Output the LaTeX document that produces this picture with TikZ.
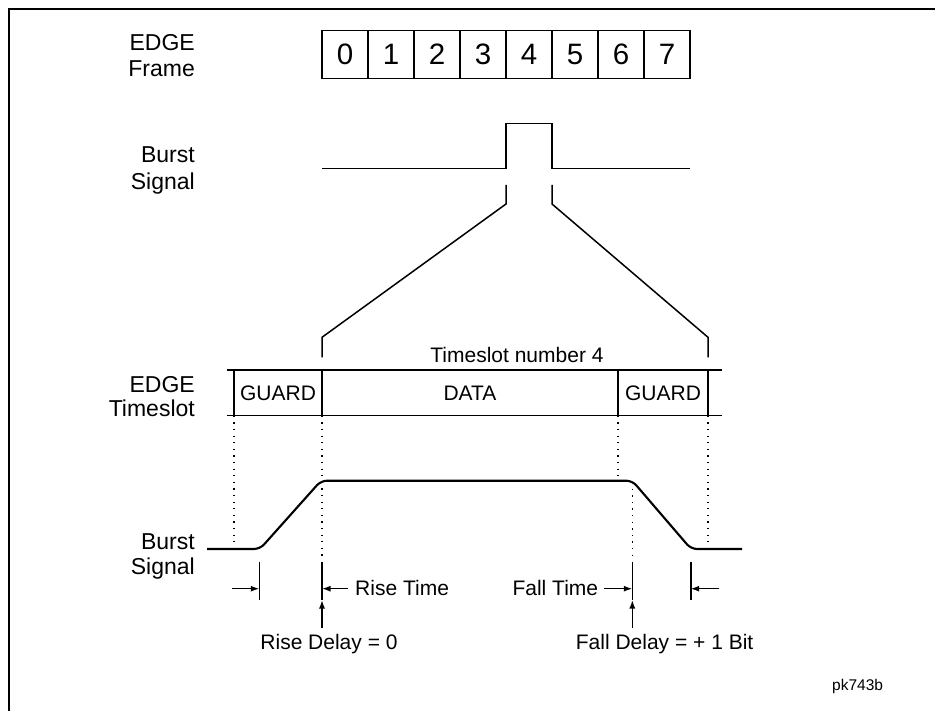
\documentclass[tikz,border=0pt]{standalone}
\usepackage{fontspec}
\setmainfont{Liberation Sans}
\usetikzlibrary{arrows.meta}
\begin{document}
\begin{tikzpicture}[x=1pt,y=-1pt,
  lbl/.style={font=\fontsize{23}{26}\selectfont, inner sep=0pt},
  smalltxt/.style={font=\fontsize{21}{24}\selectfont, inner sep=0pt},
  fbox/.style={draw, line width=1.3pt, minimum width=46pt, minimum height=47.6pt, inner sep=0pt, outer sep=0pt, font=\fontsize{29.5}{32}\selectfont},
  sigline/.style={line width=1.5pt},
  tsline/.style={line width=1.4pt},
  tsvert/.style={line width=2pt},
  bigsig/.style={line width=2.1pt, rounded corners=6pt},
  mark line/.style={line width=1.6pt},
  arr/.style={-{Latex[length=8.5pt,width=6pt]}, line width=1.4pt},
  dotline/.style={line width=1.2pt, dash pattern=on 1.3pt off 5.3pt},
]
\useasboundingbox (0,0) rectangle (935,711);
% frame
\coordinate (fbl) at (9,712);
\coordinate (ftl) at (9,9);
\coordinate (ftr) at (936,9);
\draw[line width=1.5pt] (fbl) -- (ftl) -- (ftr);

% labels
\node[lbl, anchor=base east] (l1a) at (195,50.7) {EDGE};
\node[lbl, anchor=base east] (l1b) at (195,76.7) {Frame};
\node[lbl, anchor=base east] (l2a) at (195,162.7) {Burst};
\node[lbl, anchor=base east] (l2b) at (195,189.5) {Signal};
\node[lbl, anchor=base east] (l3a) at (195,393) {EDGE};
\node[lbl, anchor=base east] (l3b) at (195,417) {Timeslot};
\node[lbl, anchor=base east] (l4a) at (195,549.5) {Burst};
\node[lbl, anchor=base east] (l4b) at (195,574.5) {Signal};

% frame boxes
\foreach \i in {0,...,7} {
  \node[fbox] (f\i) at ({345+46*\i},54.5) {\i};
}

% upper burst signal
\coordinate (b1) at (322,168.3);
\coordinate (b2) at (506,168.3);
\coordinate (b3) at (506,123.3);
\coordinate (b4) at (552,123.3);
\coordinate (b5) at (552,168.3);
\coordinate (b6) at (690,168.3);
\draw[sigline] (b1) -- (b2) -- (b3) -- (b4) -- (b5) -- (b6);

% zoom lines
\coordinate (z1) at (506,185);
\coordinate (z2) at (506,204);
\coordinate (z3) at (322,337.3);
\coordinate (z4) at (322,357.5);
\coordinate (z5) at (552,185);
\coordinate (z6) at (552,204);
\coordinate (z7) at (708,337.3);
\coordinate (z8) at (708,357.5);
\draw[sigline] (z1) -- (z2) -- (z3) -- (z4);
\draw[sigline] (z5) -- (z6) -- (z7) -- (z8);

% timeslot
\node[smalltxt, anchor=base] (tsn) at (517,363) {Timeslot number 4};
\coordinate (t1) at (226.7,370);
\coordinate (t2) at (722.3,370);
\coordinate (t3) at (226.7,415.7);
\coordinate (t4) at (722.3,415.7);
\draw[tsline] (t1) -- (t2);
\draw[tsline] (t3) -- (t4);
\foreach \x/\n in {234/va,322/vb,618/vc,708/vd} {
  \coordinate (\n top) at (\x,370);
  \coordinate (\n bot) at (\x,415.7);
  \draw[tsvert] (\n top) -- (\n bot);
}
\node[smalltxt] (g1) at (278,392.8) {GUARD};
\node[smalltxt] (data) at (470,392.8) {DATA};
\node[smalltxt] (g2) at (663,392.8) {GUARD};

% dotted guides
\coordinate (d1e) at (234,548);
\coordinate (d2e) at (322,557);
\coordinate (d3e) at (618,480);
\coordinate (d4s) at (632.3,482);
\coordinate (d4e) at (632.3,557);
\coordinate (d5e) at (708,548);
\draw[dotline] (vabot) -- (d1e);
\draw[dotline] (vbbot) -- (d2e);
\draw[dotline] (vcbot) -- (d3e);
\draw[dotline] (d4s) -- (d4e);
\draw[dotline] (vdbot) -- (d5e);

% lower burst signal
\coordinate (s1) at (207,549);
\coordinate (s2) at (260,549);
\coordinate (s3) at (321,480.7);
\coordinate (s4) at (632.3,480.7);
\coordinate (s5) at (691,549);
\coordinate (s6) at (742,549);
\draw[bigsig] (s1) -- (s2) -- (s3) -- (s4) -- (s5) -- (s6);

% markers
\foreach \x/\n in {259.3/ma,322/mb,632.3/mc,690.7/md} {
  \coordinate (\n top) at (\x,561.7);
  \coordinate (\n bot) at (\x,600);
  \draw[mark line] (\n top) -- (\n bot);
}
\coordinate (a1) at (231.7,588.7);
\coordinate (a1t) at (259.3,588.7);
\coordinate (a2) at (348,588.7);
\coordinate (a2t) at (322,588.7);
\coordinate (a3) at (604,588.7);
\coordinate (a3t) at (632.3,588.7);
\coordinate (a4) at (719.3,588.7);
\coordinate (a4t) at (690.7,588.7);
\draw[arr] (a1) -- (a1t);
\draw[arr] (a2) -- (a2t);
\draw[arr] (a3) -- (a3t);
\draw[arr] (a4) -- (a4t);
\node[smalltxt, anchor=west] (rt) at (355,588) {Rise Time};
\node[smalltxt, anchor=east] (ft) at (598.3,588) {Fall Time};

% delay arrows
\coordinate (u1) at (322,628);
\coordinate (u2) at (632.3,628);
\draw[arr] (u1) -- (mbbot);
\draw[arr] (u2) -- (mcbot);
\node[smalltxt, anchor=base] (rd) at (329,649) {Rise Delay = 0};
\node[smalltxt, anchor=base] (fd) at (664.6,649) {Fall Delay = + 1 Bit};

\node[font=\fontsize{15.5}{18}\selectfont, inner sep=0pt, anchor=base west] (pk) at (832,690.5) {pk743b};
\end{tikzpicture}
\end{document}
